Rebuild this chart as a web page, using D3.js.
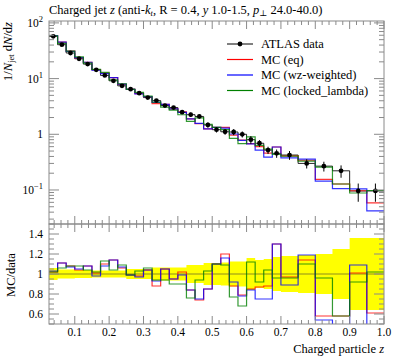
<!DOCTYPE html>
<html><head><meta charset="utf-8">
<script src="https://cdn.jsdelivr.net/npm/d3@7"></script>
<style>body{margin:0;background:#fff}svg{display:block}text{font-family:"Liberation Serif","DejaVu Serif",serif;fill:#000}</style>
</head><body><svg id="c" width="397" height="358"></svg>
<script>
// ---- data ----
const binEdges = [0.025,0.05,0.075,0.1,0.125,0.15,0.175,0.2,0.225,0.25,0.275,0.3,0.325,0.35,0.375,0.4,0.425,0.45,0.475,0.5,0.525,0.55,0.575,0.6,0.625,0.65,0.675,0.7,0.75,0.8,0.85,0.9,0.95,1.0];
const dataVals = [57.4,40.6,28.8,22.7,18.2,14.4,11.4,9.13,7.41,6.47,5.48,4.56,4.03,3.28,3.02,2.49,2.25,2.09,1.47,1.21,1.11,1.10,1.00,0.80,0.69,0.52,0.455,0.424,0.30,0.268,0.221,0.096,0.096];
const dataRelErr = [0.06,0.045,0.045,0.04,0.04,0.035,0.035,0.035,0.035,0.05,0.05,0.05,0.065,0.065,0.065,0.065,0.09,0.09,0.11,0.11,0.115,0.125,0.125,0.16,0.14,0.15,0.17,0.18,0.19,0.2,0.25,0.36,0.36];
const ratioEq = [1.02,1.11,1.08,1.04,1.08,1.01,1.10,1.14,1.06,0.99,0.98,1.04,0.88,1.05,0.95,1.02,0.84,0.74,0.85,1.10,1.20,0.88,0.79,0.85,0.87,0.88,1.30,0.97,1.14,0.58,0.58,1.01,0.61];
const ratioWz = [1.03,1.11,1.07,1.05,1.08,0.98,1.08,1.14,1.07,0.99,0.97,1.04,0.93,1.05,0.95,0.99,0.84,0.75,0.85,1.10,1.16,0.92,0.78,0.84,0.75,0.75,1.30,0.89,1.19,0.54,0.48,1.09,0.44];
const ratioLocked = [1.02,1.06,1.08,1.08,1.04,1.02,1.13,1.04,1.09,0.99,1.03,1.06,0.94,0.94,0.90,0.90,0.76,0.94,1.03,1.10,1.09,0.77,0.68,1.12,0.92,1.04,0.96,0.96,1.10,0.96,0.58,0.92,1.02];
const seriesNames = ["MC (eq)","MC (wz-weighted)","MC (locked_lambda)"];
const seriesColors = ["#ff0000","#0000ff","#008000"];
const xTicks = [0.1,0.2,0.3,0.4,0.5,0.6,0.7,0.8,0.9,1.0];
const xTickLabels = ["0.1","0.2","0.3","0.4","0.5","0.6","0.7","0.8","0.9","1.0"];
const yMainTicks = [0.1,1,10,100];
const yRatioTicks = [0.6,0.8,1.0,1.2,1.4];
const yRatioTickLabels = ["0.6","0.8","1","1.2","1.4"];

// ---- layout ----
const L=49, R=384, T=21, MB=224, RB=324;
const svg = d3.select("#c");
const x = d3.scaleLinear().domain([0.025,1.0]).range([L,R]);
const y = d3.scaleLog().domain([0.0245,108.2]).range([MB,T]);
const yr = d3.scaleLinear().domain([0.5,1.5]).range([RB,MB]);
const frameCol = "#8a8a8a";

const defs = svg.append("defs");
defs.append("clipPath").attr("id","cm").append("rect").attr("x",L).attr("y",T).attr("width",R-L).attr("height",MB-T);
defs.append("clipPath").attr("id","cr").append("rect").attr("x",L).attr("y",MB).attr("width",R-L).attr("height",RB-MB);

function stepPts(vals){
  const p=[];
  vals.forEach((v,i)=>{p.push([binEdges[i],v]);p.push([binEdges[i+1],v]);});
  return p;
}
const mc = [ratioEq,ratioWz,ratioLocked].map(r=>r.map((q,i)=>q*dataVals[i]));
const ratios = [ratioEq,ratioWz,ratioLocked];

// ---- ratio panel ----
const gr = svg.append("g").attr("clip-path","url(#cr)");
const band = [];
dataRelErr.forEach((e,i)=>{band.push({x:binEdges[i],lo:1-e,hi:1+e});band.push({x:binEdges[i+1],lo:1-e,hi:1+e});});
gr.append("path").attr("d",d3.area().x(d=>x(d.x)).y0(d=>yr(d.lo)).y1(d=>yr(d.hi))(band)).attr("fill","#ffff00");
gr.append("line").attr("x1",L).attr("x2",R).attr("y1",yr(1)).attr("y2",yr(1)).attr("stroke","#333").attr("stroke-width",0.8).attr("stroke-opacity",0.7);
ratios.forEach((r,k)=>{
  gr.append("path").attr("d",d3.line().x(d=>x(d[0])).y(d=>yr(d[1]))(stepPts(r)))
    .attr("fill","none").attr("stroke",seriesColors[k]).attr("stroke-width",1.2).attr("stroke-opacity",0.8);
});

// ---- main panel ----
const gm = svg.append("g").attr("clip-path","url(#cm)");
gm.append("path").attr("d",d3.line().x(d=>x(d[0])).y(d=>y(d[1]))(stepPts(dataVals)))
  .attr("fill","none").attr("stroke","#000").attr("stroke-width",1).attr("stroke-opacity",0.85);
mc.forEach((m,k)=>{
  gm.append("path").attr("d",d3.line().x(d=>x(d[0])).y(d=>y(d[1]))(stepPts(m)))
    .attr("fill","none").attr("stroke",seriesColors[k]).attr("stroke-width",1.2).attr("stroke-opacity",0.8);
});
dataVals.forEach((v,i)=>{
  const cx = x((binEdges[i]+binEdges[i+1])/2);
  gm.append("line").attr("x1",cx).attr("x2",cx).attr("y1",y(v*(1+dataRelErr[i]))).attr("y2",y(v*(1-dataRelErr[i]))).attr("stroke","#000").attr("stroke-width",1);
  gm.append("circle").attr("cx",cx).attr("cy",y(v)).attr("r",2.4).attr("fill","#000");
});

// ---- frames & ticks ----
const fr = svg.append("g").attr("stroke",frameCol).attr("stroke-width",1).attr("fill","none");
fr.append("rect").attr("x",L).attr("y",T).attr("width",R-L).attr("height",MB-T);
fr.append("rect").attr("x",L).attr("y",MB).attr("width",R-L).attr("height",RB-MB);
function hline(x1,x2,yy){fr.append("line").attr("x1",x1).attr("x2",x2).attr("y1",yy).attr("y2",yy);}
function vline(xx,y1,y2){fr.append("line").attr("x1",xx).attr("x2",xx).attr("y1",y1).attr("y2",y2);}
const xMinor = d3.range(0.04,1.0001,0.02).map(v=>+v.toFixed(2)).filter(v=>v>=0.025);
xMinor.forEach(v=>{
  const major = xTicks.some(t=>Math.abs(t-v)<1e-6);
  const len = major?8:4;
  const xx = x(v);
  vline(xx,T,T+len); vline(xx,MB,MB-len); vline(xx,MB,MB+len); vline(xx,RB,RB-len);
});
for(let e=-2;e<=2;e++){
  for(let k=1;k<=9;k++){
    const v=k*Math.pow(10,e);
    if(v<y.domain()[0]||v>y.domain()[1]) continue;
    const len = k===1?10:5;
    hline(L,L+len,y(v)); hline(R,R-len,y(v));
  }
}
d3.range(0.5,1.5001,0.05).forEach(v=>{
  const major = yRatioTicks.some(t=>Math.abs(t-v)<1e-6);
  const len = major?10:5;
  hline(L,L+len,yr(v)); hline(R,R-len,yr(v));
});

// ---- labels ----
const fs = 12.5, fsTick = 11.5, fsSmall = 8.5;
xTicks.forEach((t,i)=>{
  svg.append("text").attr("x",x(t)).attr("y",336).attr("text-anchor","middle").attr("font-size",fsTick).text(xTickLabels[i]);
});
yRatioTicks.forEach((t,i)=>{
  svg.append("text").attr("x",43).attr("y",yr(t)+4).attr("text-anchor","end").attr("font-size",fsTick).text(yRatioTickLabels[i]);
});
yMainTicks.forEach(t=>{
  const tx = svg.append("text").attr("x",43).attr("y",y(t)+4).attr("text-anchor","end").attr("font-size",fsTick);
  const e = Math.round(Math.log10(t));
  if(e===0){tx.text("1");}
  else{tx.append("tspan").text("10");tx.append("tspan").attr("font-size",fsSmall).attr("dy",-5).text(e<0?"\u2212"+(-e):String(e));}
});
const title = svg.append("text").attr("x",L).attr("y",14).attr("font-size",fs);
title.append("tspan").text("Charged jet ");
title.append("tspan").attr("font-style","italic").text("z");
title.append("tspan").text(" (anti-");
title.append("tspan").attr("font-style","italic").text("k");
title.append("tspan").attr("font-style","italic").attr("font-size",fsSmall).attr("dy",2).text("t");
title.append("tspan").attr("dy",-2).text(", R = 0.4, ");
title.append("tspan").attr("font-style","italic").text("y");
title.append("tspan").text(" 1.0-1.5, ");
title.append("tspan").attr("font-style","italic").text("p");
title.append("tspan").attr("font-size",fsSmall).attr("dy",2).text("\u22a5");
title.append("tspan").attr("dy",-2).text(" 24.0-40.0)");
const yl = svg.append("text").attr("transform",`translate(12,${T+1}) rotate(-90)`).attr("text-anchor","end").attr("font-size",fs);
yl.append("tspan").text("1/");
yl.append("tspan").attr("font-style","italic").text("N");
yl.append("tspan").attr("font-size",fsSmall).attr("dy",2).text("jet");
yl.append("tspan").attr("dy",-2).text(" d");
yl.append("tspan").attr("font-style","italic").text("N");
yl.append("tspan").text("/d");
yl.append("tspan").attr("font-style","italic").text("z");
svg.append("text").attr("transform","translate(15,275) rotate(-90)").attr("text-anchor","middle").attr("font-size",fs).text("MC/data");
const xl = svg.append("text").attr("x",R).attr("y",353).attr("text-anchor","end").attr("font-size",fs);
xl.append("tspan").text("Charged particle ");
xl.append("tspan").attr("font-style","italic").text("z");

// ---- legend ----
const legY = [44,59.5,75,90.5];
const lg = svg.append("g");
lg.append("line").attr("x1",227).attr("x2",253).attr("y1",legY[0]).attr("y2",legY[0]).attr("stroke","#000").attr("stroke-width",1);
lg.append("circle").attr("cx",240).attr("cy",legY[0]).attr("r",2.4).attr("fill","#000");
lg.append("text").attr("x",261).attr("y",legY[0]+4).attr("font-size",fs).text("ATLAS data");
seriesNames.forEach((n,k)=>{
  lg.append("line").attr("x1",227).attr("x2",253).attr("y1",legY[k+1]).attr("y2",legY[k+1]).attr("stroke",seriesColors[k]).attr("stroke-width",1.2);
  lg.append("text").attr("x",261).attr("y",legY[k+1]+4).attr("font-size",fs).text(n);
});
</script></body></html>
